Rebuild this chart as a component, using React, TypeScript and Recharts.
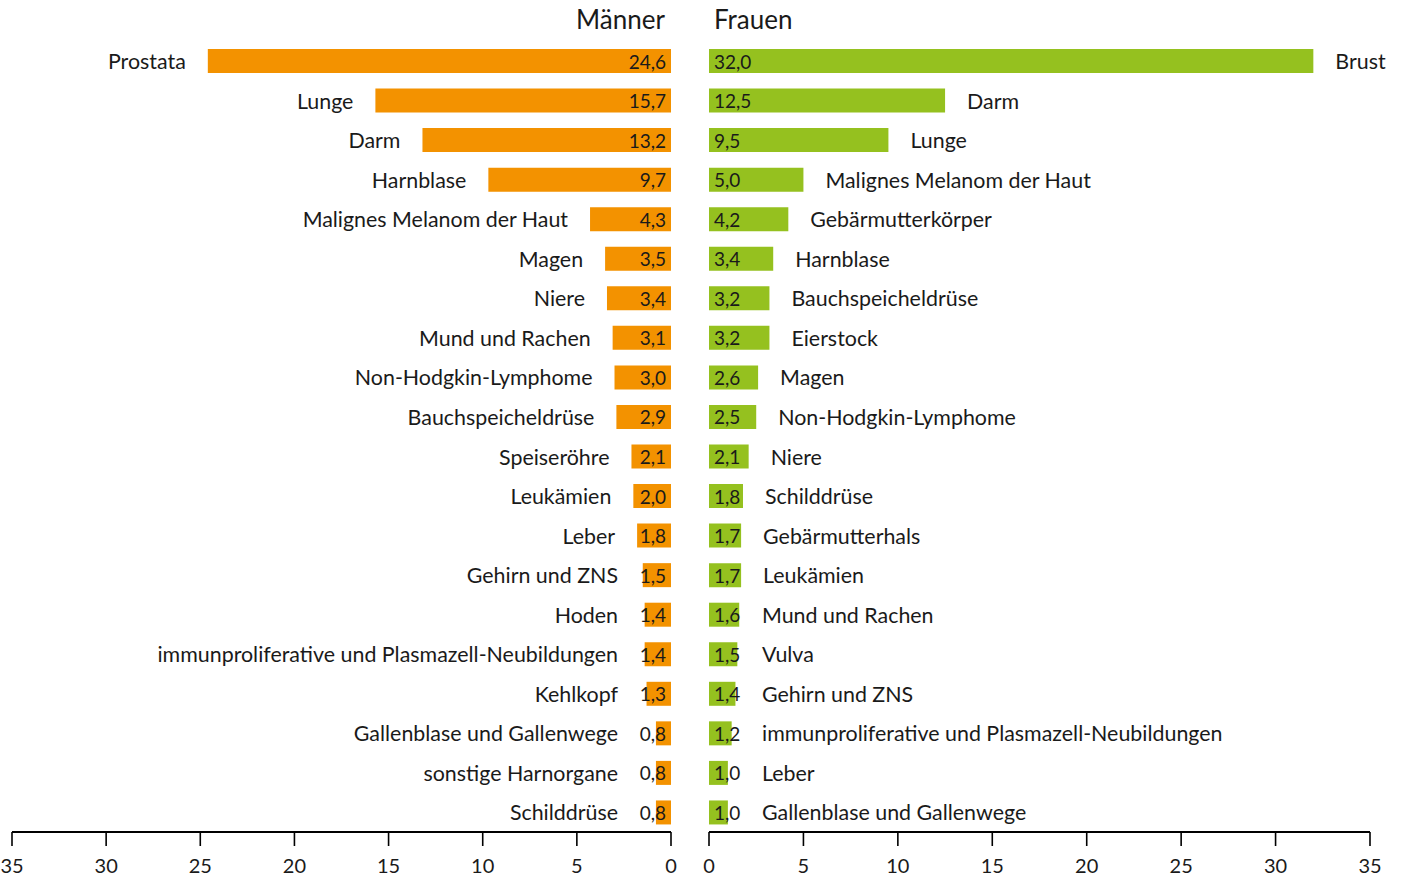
import React from 'react';
import { BarChart, Bar, XAxis, YAxis, LabelList } from 'recharts';

const menSites = [
  'Prostata', 'Lunge', 'Darm', 'Harnblase', 'Malignes Melanom der Haut', 'Magen', 'Niere',
  'Mund und Rachen', 'Non-Hodgkin-Lymphome', 'Bauchspeicheldrüse', 'Speiseröhre', 'Leukämien',
  'Leber', 'Gehirn und ZNS', 'Hoden', 'immunproliferative und Plasmazell-Neubildungen',
  'Kehlkopf', 'Gallenblase und Gallenwege', 'sonstige Harnorgane', 'Schilddrüse',
];
const menValues = [24.6, 15.7, 13.2, 9.7, 4.3, 3.5, 3.4, 3.1, 3.0, 2.9, 2.1, 2.0, 1.8, 1.5, 1.4, 1.4, 1.3, 0.8, 0.8, 0.8];

const womenSites = [
  'Brust', 'Darm', 'Lunge', 'Malignes Melanom der Haut', 'Gebärmutterkörper', 'Harnblase',
  'Bauchspeicheldrüse', 'Eierstock', 'Magen', 'Non-Hodgkin-Lymphome', 'Niere', 'Schilddrüse',
  'Gebärmutterhals', 'Leukämien', 'Mund und Rachen', 'Vulva', 'Gehirn und ZNS',
  'immunproliferative und Plasmazell-Neubildungen', 'Leber', 'Gallenblase und Gallenwege',
];
const womenValues = [32.0, 12.5, 9.5, 5.0, 4.2, 3.4, 3.2, 3.2, 2.6, 2.5, 2.1, 1.8, 1.7, 1.7, 1.6, 1.5, 1.4, 1.2, 1.0, 1.0];

const axisTicks = [0, 5, 10, 15, 20, 25, 30, 35];

const FONT = 'Lato, "Open Sans", sans-serif';
const ORANGE = '#F39200';
const GREEN = '#95C11F';
const TEXT = '#1a1a1a';

const fmt = (v: number) => v.toFixed(1).replace('.', ',');

const menData = menSites.map((name, i) => ({ name, value: menValues[i] }));
const womenData = womenSites.map((name, i) => ({ name, value: womenValues[i] }));

const makeLabel = (side: 'left' | 'right', names: string[]) => (props: any) => {
  const { x, y, width, height, value, index } = props;
  const l = Math.min(x, x + width);
  const r = Math.max(x, x + width);
  const cy = y + height / 2;
  const valW = 26;
  if (side === 'left') {
    const catX = Math.min(l, r - 5 - valW) - 22;
    return (
      <g>
        <text x={r - 5} y={cy} textAnchor="end" dominantBaseline="central" fontSize={19} fill={TEXT} fontFamily={FONT}>
          {fmt(value)}
        </text>
        <text x={catX} y={cy} textAnchor="end" dominantBaseline="central" fontSize={21.4} fill={TEXT} fontFamily={FONT}>
          {names[index]}
        </text>
      </g>
    );
  }
  const catX = Math.max(r, l + 5 + valW) + 22;
  return (
    <g>
      <text x={l + 5} y={cy} textAnchor="start" dominantBaseline="central" fontSize={19} fill={TEXT} fontFamily={FONT}>
        {fmt(value)}
      </text>
      <text x={catX} y={cy} textAnchor="start" dominantBaseline="central" fontSize={21.4} fill={TEXT} fontFamily={FONT}>
        {names[index]}
      </text>
    </g>
  );
};

const App: React.FC = () => {
  return (
    <div style={{ position: 'absolute', left: 0, top: 0, width: 1401, height: 878, background: '#fff', fontFamily: FONT }}>
      <div style={{ position: 'absolute', right: 1401 - 665, top: 3, fontSize: 26, color: TEXT }}>Männer</div>
      <div style={{ position: 'absolute', left: 714, top: 3, fontSize: 26, color: TEXT }}>Frauen</div>

      <div style={{ position: 'absolute', left: 0, top: 0 }}>
        <BarChart width={700} height={878} data={menData} layout="vertical" margin={{ top: 41, right: 29, left: 12, bottom: 0 }}>
          <XAxis
            type="number"
            domain={[0, 35]}
            ticks={axisTicks}
            interval={0}
            reversed
            height={46}
            tickSize={14}
            tickMargin={13}
            axisLine={{ stroke: '#000', strokeWidth: 2 }}
            tickLine={{ stroke: '#000', strokeWidth: 1.6 }}
            tick={{ fill: TEXT, fontSize: 20, fontFamily: FONT }}
          />
          <YAxis type="category" dataKey="name" hide />
          <Bar dataKey="value" fill={ORANGE} barSize={24} isAnimationActive={false}>
            <LabelList dataKey="value" content={makeLabel('left', menSites)} />
          </Bar>
        </BarChart>
      </div>

      <div style={{ position: 'absolute', left: 700, top: 0 }}>
        <BarChart width={701} height={878} data={womenData} layout="vertical" margin={{ top: 41, right: 31, left: 9, bottom: 0 }}>
          <XAxis
            type="number"
            domain={[0, 35]}
            ticks={axisTicks}
            interval={0}
            height={46}
            tickSize={14}
            tickMargin={13}
            axisLine={{ stroke: '#000', strokeWidth: 2 }}
            tickLine={{ stroke: '#000', strokeWidth: 1.6 }}
            tick={{ fill: TEXT, fontSize: 20, fontFamily: FONT }}
          />
          <YAxis type="category" dataKey="name" hide />
          <Bar dataKey="value" fill={GREEN} barSize={24} isAnimationActive={false}>
            <LabelList dataKey="value" content={makeLabel('right', womenSites)} />
          </Bar>
        </BarChart>
      </div>
    </div>
  );
};

export default App;
